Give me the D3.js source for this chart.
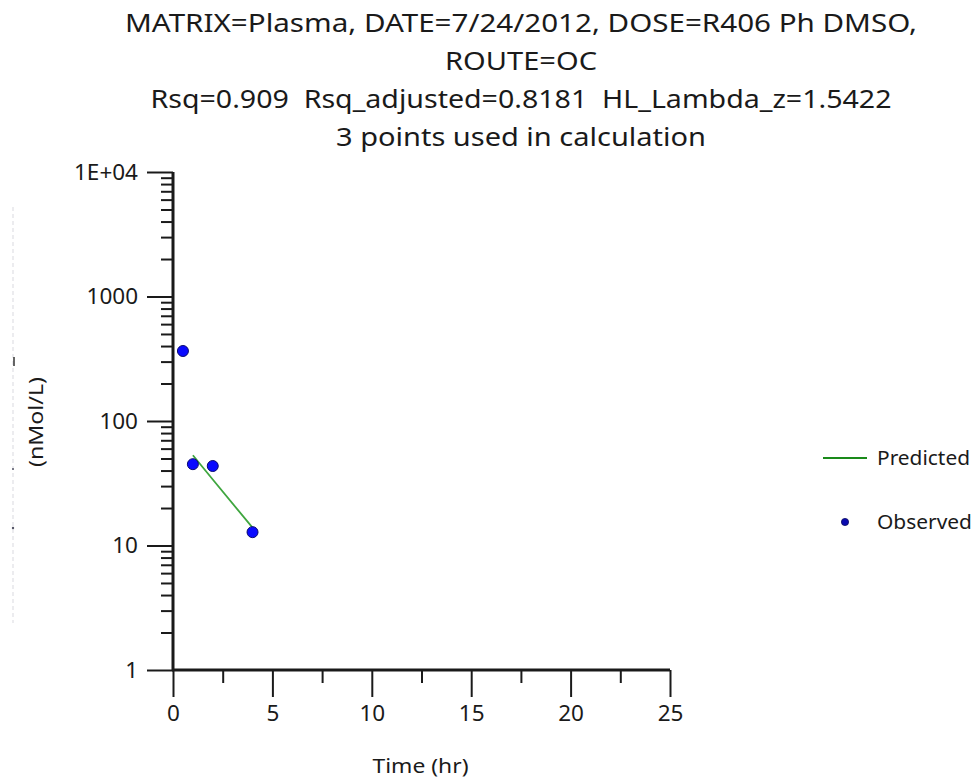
<!DOCTYPE html>
<html>
<head>
<meta charset="utf-8">
<script src="https://cdn.jsdelivr.net/npm/d3@7"></script>
<style>
  html, body { margin: 0; padding: 0; background: #fff; }
  svg { display: block; font-family: "Noto Sans", "Open Sans", sans-serif; }
  .title { white-space: pre; }
</style>
</head>
<body>
<svg id="chart" width="974" height="782"></svg>
<script>
// Title lines
const titleLines = [
  "MATRIX=Plasma, DATE=7/24/2012, DOSE=R406 Ph DMSO,",
  "ROUTE=OC",
  "Rsq=0.909  Rsq_adjusted=0.8181  HL_Lambda_z=1.5422",
  "3 points used in calculation"
];
const titleWidths = [792, 152, 741, 370];

// Observed concentrations
const obsTime = [0.5, 1, 2, 4];
const obsConc = [365, 45, 43.5, 12.8];

// Terminal-phase regression (predicted)
const predTime = [1, 2, 4];
const predConc = [53.1, 33.9, 13.9];

// Axis ticks
const xTicks = [0, 5, 10, 15, 20, 25];
const xMinorTicks = [2.5, 7.5, 12.5, 17.5, 22.5];
const yTicks = [1, 10, 100, 1000, 10000];
const yTickLabels = ["1", "10", "100", "1000", "1E+04"];
const yMinorTicks = [];
[1, 10, 100, 1000].forEach(d => { for (let k = 2; k <= 9; k++) yMinorTicks.push(d * k); });

const xLabel = "Time (hr)";
const yLabel = "(nMol/L)";
const legendItems = ["Predicted", "Observed"];

const svg = d3.select("#chart");
const plotLeft = 173, plotRight = 670, plotTop = 172, plotBottom = 670;

const x = d3.scaleLinear().domain([0, 25]).range([plotLeft, plotRight]);
const y = d3.scaleLog().domain([1, 10000]).range([plotBottom, plotTop]);

const textColor = "#1a1a1a";
const axisColor = "#1a1a1a";

// Title
const titleBase = [32, 70, 108, 146];
svg.append("g").selectAll("text").data(titleLines).join("text")
  .attr("class", "title")
  .attr("x", 521)
  .attr("y", (d, i) => titleBase[i])
  .attr("text-anchor", "middle")
  .attr("font-size", 26)
  .attr("fill", textColor)
  .attr("textLength", (d, i) => titleWidths[i])
  .attr("lengthAdjust", "spacingAndGlyphs")
  .text(d => d);

// Faint clipped axis-title strip on the far left
svg.append("line")
  .attr("x1", 13).attr("x2", 13).attr("y1", 207).attr("y2", 623)
  .attr("stroke", "#e6e6ea").attr("stroke-width", 1.5)
  .attr("stroke-dasharray", "4,3");
svg.append("line").attr("x1", 14).attr("x2", 14).attr("y1", 357).attr("y2", 366)
  .attr("stroke", "#333").attr("stroke-width", 1.5);
svg.append("circle").attr("cx", 13).attr("cy", 469).attr("r", 1).attr("fill", "#556");
svg.append("circle").attr("cx", 13).attr("cy", 528).attr("r", 1.2).attr("fill", "#556");

// Y axis: minor ticks
const yMinor = svg.append("g").attr("transform", `translate(${plotLeft},0)`)
  .call(d3.axisLeft(y).tickValues(yMinorTicks).tickSize(12).tickFormat(""));
yMinor.select(".domain").remove();
yMinor.selectAll("line").attr("stroke", axisColor).attr("stroke-width", 2);

// Y axis: major ticks
const yAxis = svg.append("g").attr("transform", `translate(${plotLeft},0)`)
  .call(d3.axisLeft(y).tickValues(yTicks).tickSize(26).tickPadding(9)
    .tickFormat((d, i) => yTickLabels[i]));
yAxis.select(".domain").remove();
yAxis.selectAll("line").attr("stroke", axisColor).attr("stroke-width", 2);
yAxis.selectAll("text").attr("font-size", 22.5).attr("fill", textColor)
  .attr("font-family", "'Noto Sans', sans-serif");

// X axis: minor ticks
const xMinor = svg.append("g").attr("transform", `translate(0,${plotBottom})`)
  .call(d3.axisBottom(x).tickValues(xMinorTicks).tickSize(13).tickFormat(""));
xMinor.select(".domain").remove();
xMinor.selectAll("line").attr("stroke", axisColor).attr("stroke-width", 2);

// X axis: major ticks
const xAxis = svg.append("g").attr("transform", `translate(0,${plotBottom})`)
  .call(d3.axisBottom(x).tickValues(xTicks).tickSize(27).tickPadding(8).tickFormat(d3.format("d")));
xAxis.select(".domain").remove();
xAxis.selectAll("line").attr("stroke", axisColor).attr("stroke-width", 2);
xAxis.selectAll("text").attr("font-size", 22.5).attr("fill", textColor)
  .attr("font-family", "'Noto Sans', sans-serif");

// Axis lines
svg.append("line").attr("x1", plotLeft).attr("x2", plotLeft).attr("y1", plotTop).attr("y2", plotBottom + 1)
  .attr("stroke", axisColor).attr("stroke-width", 3);
svg.append("line").attr("x1", plotLeft - 1).attr("x2", plotRight).attr("y1", plotBottom).attr("y2", plotBottom)
  .attr("stroke", axisColor).attr("stroke-width", 3);

// Axis titles
svg.append("text")
  .attr("x", (plotLeft + plotRight) / 2 - 1).attr("y", 773)
  .attr("text-anchor", "middle").attr("font-size", 20).attr("fill", textColor)
  .attr("textLength", 96).attr("lengthAdjust", "spacingAndGlyphs")
  .text(xLabel);
svg.append("text")
  .attr("transform", "translate(43,422) rotate(-90)")
  .attr("text-anchor", "middle").attr("font-size", 20).attr("fill", textColor)
  .attr("textLength", 90).attr("lengthAdjust", "spacingAndGlyphs")
  .text(yLabel);

// Predicted line
const line = d3.line().x((d, i) => x(predTime[i])).y(d => y(d));
svg.append("path").datum(predConc)
  .attr("d", line).attr("fill", "none")
  .attr("stroke", "#3fa63f").attr("stroke-width", 1.8);

// Observed points
svg.append("g").selectAll("circle").data(obsConc).join("circle")
  .attr("cx", (d, i) => x(obsTime[i]))
  .attr("cy", d => y(d))
  .attr("r", 5.5)
  .attr("fill", "#0a0aff")
  .attr("stroke", "#0a0a70").attr("stroke-width", 1);

// Legend
const legend = svg.append("g");
legend.append("line").attr("x1", 823).attr("x2", 867).attr("y1", 458).attr("y2", 458)
  .attr("stroke", "#1a8a1a").attr("stroke-width", 1.8);
legend.append("circle").attr("cx", 845).attr("cy", 522).attr("r", 3.6)
  .attr("fill", "#0a0ab0").attr("stroke", "#0a0a60").attr("stroke-width", 0.8);
legend.selectAll("text").data(legendItems).join("text")
  .attr("x", 877)
  .attr("y", (d, i) => [458, 522][i])
  .attr("dy", "0.35em")
  .attr("font-size", 19)
  .attr("fill", textColor)
  .attr("textLength", (d, i) => [93, 95][i])
  .attr("lengthAdjust", "spacingAndGlyphs")
  .text(d => d);
</script>
</body>
</html>
